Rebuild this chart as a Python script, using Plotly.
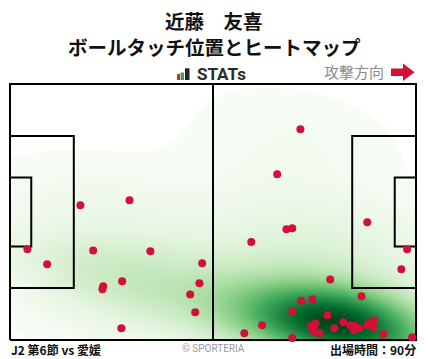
import numpy as np
import plotly.graph_objects as go

# ---------------- data (pitch metres, 105 x 68, attacking to the right) -------------
touch_x = [18.2, 30.9, 4.5, 9.6, 21.5, 36.3, 49.7, 24.1, 23.9, 29.0, 49.0, 46.6, 47.9, 28.8,
           75.1, 69.1, 92.4, 71.5, 73.0, 62.4, 102.7, 101.2, 82.8, 90.9, 75.3, 78.2, 73.0,
           82.1, 65.2, 60.6, 73.0, 104.0, 96.6, 77.8, 79.0, 78.5, 78.6, 80.0, 83.9, 86.2,
           88.0, 89.1, 89.0, 90.3, 92.5, 92.8, 94.1, 94.1]
touch_y = [35.8, 37.1, 24.1, 20.1, 23.8, 23.6, 20.4, 14.3, 13.5, 15.6, 15.1, 12.1, 7.4, 3.1,
           56.0, 44.0, 31.3, 29.4, 29.7, 26.0, 24.1, 18.8, 16.1, 11.6, 10.4, 10.8, 7.6,
           6.6, 3.9, 1.8, 0.5, 0.7, 1.5, 3.7, 4.4, 3.5, 2.1, 1.8, 3.1, 4.7,
           3.9, 3.7, 2.6, 3.1, 4.0, 4.4, 5.2, 3.4]

title_line1 = "近藤　友喜"
title_line2 = "ボールタッチ位置とヒートマップ"
footer_left = "J2 第6節 vs 愛媛"
footer_right = "出場時間：90分"
credit = "© SPORTERIA"
direction_label = "攻撃方向"

# ---------------- geometry constants ----------------
W, H = 428, 359
PITCH_L, PITCH_R, PITCH_T, PITCH_B = 10, 416, 84, 340
L, Wd = 105.0, 68.0
PAD = 1.0
sx = (PITCH_R - PITCH_L) / L
sy = (PITCH_B - PITCH_T) / Wd
BW_SCALE = 1.15
MASS_CUT = 0.006
GAMMA = 1.2


def px(x):
    return x / W


def py(y):
    return (H - y) / H


# ---------------- KDE heat map ----------------
pts = np.vstack([touch_x, touch_y])
n = pts.shape[1]
factor = n ** (-1.0 / 6.0) * BW_SCALE
cov = np.cov(pts) * factor ** 2
inv = np.linalg.inv(cov)
gx = np.linspace(0, L, 260)
gy = np.linspace(0, Wd, 170)
GX, GY = np.meshgrid(gx, gy)
grid = np.vstack([GX.ravel(), GY.ravel()])
dens = np.zeros(grid.shape[1])
for i in range(n):
    d = grid - pts[:, i:i + 1]
    dens += np.exp(-0.5 * np.einsum('ij,ik,kj->j', d, inv, d))
dens = dens.reshape(GX.shape)
flat = np.sort(dens.ravel())
cum = np.cumsum(flat)
cum /= cum[-1]
thresh = flat[np.searchsorted(cum, MASS_CUT)]
norm = np.clip((dens - thresh) / (dens.max() - thresh), 0, 1) ** GAMMA
z = np.where(dens >= thresh, norm, np.nan)

greens = [[0.0, "#f7fcf5"], [0.125, "#e5f5e0"], [0.25, "#c7e9c0"], [0.375, "#a1d99b"],
          [0.5, "#74c476"], [0.625, "#41ab5d"], [0.75, "#238b45"], [0.875, "#006d2c"],
          [1.0, "#00441b"]]

fig = go.Figure()
fig.add_trace(go.Heatmap(x=gx, y=gy, z=z, colorscale=greens, zmin=0, zmax=1,
                         zsmooth="best", showscale=False, hoverinfo="skip"))

# ---------------- pitch lines ----------------
pen_d, pen_w = 16.5, 40.32
ga_d, ga_w = 5.5, 18.32
line_sets = [
    ([0, L, L, 0, 0], [0, 0, Wd, Wd, 0]),
    ([L / 2, L / 2], [0, Wd]),
    ([0, pen_d, pen_d, 0], [(Wd - pen_w) / 2, (Wd - pen_w) / 2, (Wd + pen_w) / 2, (Wd + pen_w) / 2]),
    ([0, ga_d, ga_d, 0], [(Wd - ga_w) / 2, (Wd - ga_w) / 2, (Wd + ga_w) / 2, (Wd + ga_w) / 2]),
    ([L, L - pen_d, L - pen_d, L], [(Wd - pen_w) / 2, (Wd - pen_w) / 2, (Wd + pen_w) / 2, (Wd + pen_w) / 2]),
    ([L, L - ga_d, L - ga_d, L], [(Wd - ga_w) / 2, (Wd - ga_w) / 2, (Wd + ga_w) / 2, (Wd + ga_w) / 2]),
]
for lx, ly in line_sets:
    fig.add_trace(go.Scatter(x=lx, y=ly, mode="lines", line=dict(color="black", width=2),
                             hoverinfo="skip", showlegend=False))

# ---------------- touches ----------------
fig.add_trace(go.Scatter(x=touch_x, y=touch_y, mode="markers",
                         marker=dict(size=8, color="#d3103a", line=dict(width=0)),
                         showlegend=False))

# ---------------- layout ----------------
fig.update_xaxes(range=[-PAD, L + PAD], visible=False, fixedrange=True,
                 domain=[px(PITCH_L - PAD * sx), px(PITCH_R + PAD * sx)])
fig.update_yaxes(range=[-PAD, Wd + PAD], visible=False, fixedrange=True,
                 domain=[py(PITCH_B + PAD * sy), py(PITCH_T - PAD * sy)])

jp = "Noto Sans CJK JP"
ann = [
    dict(text=f"<b>{title_line1}</b>", x=px(214), y=py(20), font=dict(size=19.5, color="#111", family=jp)),
    dict(text=f"<b>{title_line2}</b>", x=px(214), y=py(46.5), font=dict(size=19.5, color="#111", family=jp)),
    dict(text="<b>STATs</b>", x=px(195), y=py(74), xanchor="left",
         font=dict(size=17, color="#2a2a2a", family="Roboto")),
    dict(text=direction_label, x=px(386), y=py(72), xanchor="right",
         font=dict(size=15, color="#8a8a8a", family=jp)),
    dict(text=f"<b>{footer_left}</b>", x=px(9), y=py(349), xanchor="left",
         font=dict(size=12, color="#111", family=jp)),
    dict(text=credit, x=px(213), y=py(348),
         font=dict(size=10, color="#9a9a9a", family="Roboto")),
    dict(text=f"<b>{footer_right}</b>", x=px(418), y=py(349), xanchor="right",
         font=dict(size=12, color="#111", family=jp)),
]
for a in ann:
    a.setdefault("xanchor", "center")
    a.update(xref="paper", yref="paper", yanchor="middle", showarrow=False)

shapes = [
    # STATs icon bars
    dict(type="rect", x0=px(177), x1=px(180), y0=py(80), y1=py(74), fillcolor="#e0203a"),
    dict(type="rect", x0=px(180.5), x1=px(184), y0=py(80), y1=py(72.5), fillcolor="#2aa84a"),
    dict(type="rect", x0=px(185), x1=px(189.5), y0=py(80), y1=py(68.3), fillcolor="#222"),
    # direction arrow
    dict(type="rect", x0=px(391), x1=px(404), y0=py(76), y1=py(68.5), fillcolor="#d3103a"),
    dict(type="path", path=f"M {px(403)} {py(63.5)} L {px(414.5)} {py(72.2)} L {px(403)} {py(81)} Z",
         fillcolor="#d3103a"),
]
for s in shapes:
    s.update(xref="paper", yref="paper", line=dict(width=0))

fig.update_layout(width=W, height=H, margin=dict(l=0, r=0, t=0, b=0),
                  paper_bgcolor="white", plot_bgcolor="white",
                  annotations=ann, shapes=shapes, showlegend=False)

fig.write_html("out.html", config={"displayModeBar": False},
               post_script="document.body.style.margin='0';document.body.style.overflow='hidden';")
